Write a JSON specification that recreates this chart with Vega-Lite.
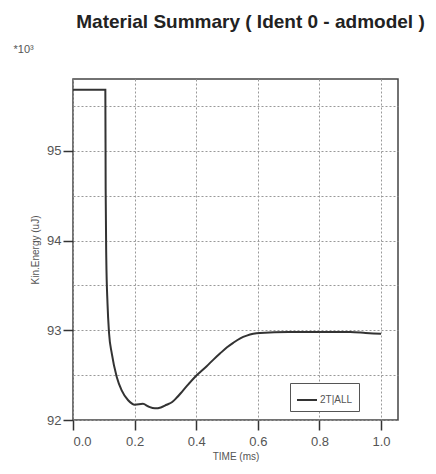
{
  "$schema": "https://vega.github.io/schema/vega-lite/v6.json",
  "autosize": "none",
  "width": 325,
  "height": 341,
  "padding": {"left": 73, "top": 79, "right": 38, "bottom": 54},
  "background": "white",
  "title": {
    "text": "Material Summary ( Ident 0 - admodel )",
    "font": "Liberation Sans",
    "fontSize": 19,
    "fontWeight": "bold",
    "color": "#222",
    "anchor": "middle",
    "dx": 15,
    "offset": 11
  },
  "config": {
    "view": {"stroke": "#444", "strokeWidth": 1.5},
    "axis": {
      "labelFont": "Liberation Sans",
      "titleFont": "Liberation Sans",
      "labelColor": "#555",
      "titleColor": "#555",
      "gridColor": "#999",
      "gridDash": [2, 2],
      "gridWidth": 1,
      "domain": false,
      "tickColor": "#333",
      "tickWidth": 1.5
    }
  },
  "data": {
    "values": [
      {"t": 0.0, "e": 95.68, "s": "2T|ALL"},
      {"t": 0.105, "e": 95.68, "s": "2T|ALL"},
      {"t": 0.106, "e": 94.58, "s": "2T|ALL"},
      {"t": 0.108, "e": 93.81, "s": "2T|ALL"},
      {"t": 0.112, "e": 93.3, "s": "2T|ALL"},
      {"t": 0.117, "e": 92.97, "s": "2T|ALL"},
      {"t": 0.126, "e": 92.74, "s": "2T|ALL"},
      {"t": 0.142, "e": 92.48, "s": "2T|ALL"},
      {"t": 0.158, "e": 92.33, "s": "2T|ALL"},
      {"t": 0.179, "e": 92.22, "s": "2T|ALL"},
      {"t": 0.201, "e": 92.17, "s": "2T|ALL"},
      {"t": 0.227, "e": 92.18, "s": "2T|ALL"},
      {"t": 0.245, "e": 92.15, "s": "2T|ALL"},
      {"t": 0.266, "e": 92.13, "s": "2T|ALL"},
      {"t": 0.285, "e": 92.14, "s": "2T|ALL"},
      {"t": 0.304, "e": 92.17, "s": "2T|ALL"},
      {"t": 0.322, "e": 92.2, "s": "2T|ALL"},
      {"t": 0.337, "e": 92.25, "s": "2T|ALL"},
      {"t": 0.355, "e": 92.32, "s": "2T|ALL"},
      {"t": 0.375, "e": 92.4, "s": "2T|ALL"},
      {"t": 0.396, "e": 92.48, "s": "2T|ALL"},
      {"t": 0.415, "e": 92.54, "s": "2T|ALL"},
      {"t": 0.434, "e": 92.6, "s": "2T|ALL"},
      {"t": 0.455, "e": 92.67, "s": "2T|ALL"},
      {"t": 0.477, "e": 92.74, "s": "2T|ALL"},
      {"t": 0.5, "e": 92.81, "s": "2T|ALL"},
      {"t": 0.52, "e": 92.86, "s": "2T|ALL"},
      {"t": 0.543, "e": 92.91, "s": "2T|ALL"},
      {"t": 0.564, "e": 92.94, "s": "2T|ALL"},
      {"t": 0.585, "e": 92.96, "s": "2T|ALL"},
      {"t": 0.607, "e": 92.97, "s": "2T|ALL"},
      {"t": 0.7, "e": 92.98, "s": "2T|ALL"},
      {"t": 0.8, "e": 92.98, "s": "2T|ALL"},
      {"t": 0.9, "e": 92.98, "s": "2T|ALL"},
      {"t": 0.95, "e": 92.97, "s": "2T|ALL"},
      {"t": 1.0, "e": 92.96, "s": "2T|ALL"}
    ]
  },
  "layer": [
    {
      "mark": {"type": "line", "strokeWidth": 0, "opacity": 0},
      "encoding": {
        "x": {"field": "t", "type": "quantitative", "scale": {"domain": [0, 1.055], "nice": false, "zero": false}},
        "y": {
          "field": "e", "type": "quantitative",
          "scale": {"domain": [92, 95.8], "nice": false, "zero": false},
          "axis": {
            "orient": "left",
            "values": [92.5, 93.5, 94.5, 95.5],
            "grid": true,
            "labels": false,
            "ticks": false,
            "domain": false,
            "title": "*10³",
            "titleAngle": 0,
            "titleAlign": "left",
            "titleBaseline": "middle",
            "titleX": -60,
            "titleY": -30,
            "titleFontSize": 11,
            "titleFontWeight": "normal"
          }
        }
      }
    },
    {
      "mark": {"type": "line", "strokeWidth": 2, "interpolate": "monotone"},
      "encoding": {
        "x": {
          "field": "t", "type": "quantitative",
          "scale": {"domain": [0, 1.055], "nice": false, "zero": false},
          "axis": {
            "values": [0, 0.2, 0.4, 0.6, 0.8, 1.0],
            "format": ".1f",
            "grid": true,
            "tickSize": 10,
            "labelFontSize": 13,
            "labelPadding": 5,
            "title": "TIME (ms)",
            "titleFontSize": 10,
            "titleFontWeight": "normal",
            "titlePadding": 3
          }
        },
        "y": {
          "field": "e", "type": "quantitative",
          "scale": {"domain": [92, 95.8], "nice": false, "zero": false},
          "axis": {
            "orient": "left",
            "values": [92, 93, 94, 95],
            "format": "d",
            "grid": true,
            "tickSize": 10,
            "labelFontSize": 13,
            "labelPadding": 2,
            "title": "Kin.Energy (uJ)",
            "titleFontSize": 10,
            "titleFontWeight": "normal",
            "titlePadding": 6
          }
        },
        "color": {
          "field": "s", "type": "nominal",
          "scale": {"range": ["#333333"]},
          "legend": {
            "title": null,
            "orient": "none",
            "legendX": 217,
            "legendY": 304,
            "strokeColor": "#555",
            "padding": 6,
            "symbolType": "stroke",
            "symbolStrokeWidth": 2,
            "symbolSize": 400,
            "labelFont": "Liberation Sans",
            "labelFontSize": 10,
            "labelColor": "#555",
            "labelOffset": 2,
            "fillColor": "white"
          }
        }
      }
    }
  ],
  "resolve": {"axis": {"y": "independent"}}
}
